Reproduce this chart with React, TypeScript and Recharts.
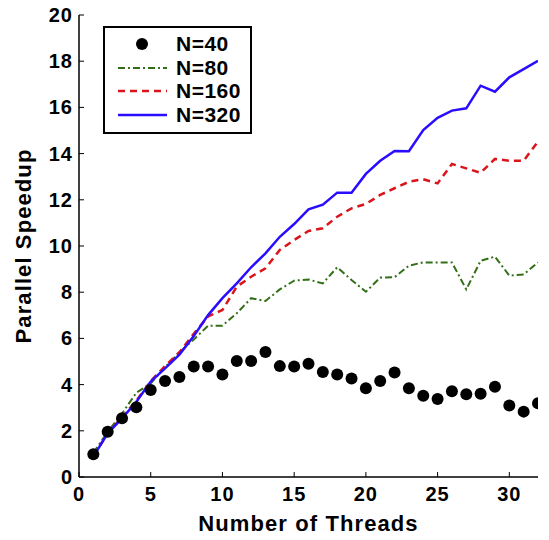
import React from 'react';
import { LineChart, Line, XAxis, YAxis } from 'recharts';

const threads = [1, 2, 3, 4, 5, 6, 7, 8, 9, 10, 11, 12, 13, 14, 15, 16, 17, 18, 19, 20, 21, 22, 23, 24, 25, 26, 27, 28, 29, 30, 31, 32];
const n40 = [0.98, 1.96, 2.54, 3.02, 3.77, 4.16, 4.33, 4.78, 4.78, 4.44, 5.02, 5.02, 5.41, 4.8, 4.78, 4.9, 4.55, 4.44, 4.26, 3.84, 4.16, 4.52, 3.84, 3.52, 3.38, 3.71, 3.58, 3.6, 3.91, 3.1, 2.83, 3.19];
const n80 = [1.05, 1.95, 2.75, 3.65, 4.05, 4.75, 5.4, 5.95, 6.55, 6.55, 7.09, 7.74, 7.62, 8.12, 8.5, 8.55, 8.38, 9.08, 8.53, 8.02, 8.63, 8.65, 9.15, 9.29, 9.29, 9.29, 8.12, 9.36, 9.54, 8.72, 8.77, 9.29];
const n160 = [0.9, 1.9, 2.6, 3.3, 4.15, 4.8, 5.4, 6.2, 6.95, 7.23, 8.24, 8.67, 9.03, 9.83, 10.26, 10.65, 10.77, 11.27, 11.63, 11.82, 12.21, 12.5, 12.78, 12.89, 12.71, 13.55, 13.36, 13.17, 13.77, 13.69, 13.69, 14.52];
const n320 = [0.88, 1.89, 2.54, 3.26, 4.13, 4.7, 5.3, 6.1, 7.01, 7.74, 8.38, 9.08, 9.68, 10.4, 10.95, 11.59, 11.79, 12.31, 12.31, 13.12, 13.69, 14.11, 14.1, 15.02, 15.55, 15.86, 15.96, 16.94, 16.68, 17.3, 17.66, 18.02];
const xTicks = [0, 5, 10, 15, 20, 25, 30];
const yTicks = [0, 2, 4, 6, 8, 10, 12, 14, 16, 18, 20];

const data = threads.map((t, i) => ({ t, n40: n40[i], n80: n80[i], n160: n160[i], n320: n320[i] }));

const FONT = '"Liberation Sans", Arial, sans-serif';
const GREEN = '#336f17';
const RED = '#d9141b';
const BLUE = '#2a0cff';

const XTick = (props: any) => {
  const { x, y, payload } = props;
  return (
    <g>
      <line x1={x} y1={y} x2={x} y2={y - 5} stroke="#000" strokeWidth={1} />
      <text x={x} y={y + 24} textAnchor="middle" fontFamily={FONT} fontWeight="bold" fontSize={20} letterSpacing={1} fill="#000">
        {payload.value}
      </text>
    </g>
  );
};

const YTick = (props: any) => {
  const { x, y, payload } = props;
  return (
    <g>
      <line x1={x} y1={y} x2={x + 5} y2={y} stroke="#000" strokeWidth={1} />
      <text x={x - 6} y={y + 7} textAnchor="end" fontFamily={FONT} fontWeight="bold" fontSize={20} letterSpacing={1} fill="#000">
        {payload.value}
      </text>
    </g>
  );
};

const legendRows = [
  { label: 'N=40', kind: 'dot' },
  { label: 'N=80', kind: 'dashdot' },
  { label: 'N=160', kind: 'dash' },
  { label: 'N=320', kind: 'solid' },
];

const LegendBox = () => (
  <div
    style={{
      position: 'absolute',
      left: 103,
      top: 26,
      width: 145,
      height: 104,
      border: '2px solid #000',
      background: '#fff',
      fontFamily: FONT,
      fontWeight: 'bold',
      fontSize: 21,
    }}
  >
    {legendRows.map((r, i) => (
      <div key={r.label} style={{ position: 'absolute', left: 0, top: 4 + i * 23.7, height: 24, display: 'flex', alignItems: 'center' }}>
        <svg width={70} height={24}>
          {r.kind === 'dot' && <circle cx={37} cy={12} r={6} fill="#000" />}
          {r.kind === 'dashdot' && (
            <line x1={13} y1={12} x2={62} y2={12} stroke={GREEN} strokeWidth={2} strokeDasharray="7 3 2 3" />
          )}
          {r.kind === 'dash' && (
            <line x1={13} y1={12} x2={62} y2={12} stroke={RED} strokeWidth={2.5} strokeDasharray="7 5" />
          )}
          {r.kind === 'solid' && <line x1={13} y1={12} x2={62} y2={12} stroke={BLUE} strokeWidth={2.5} />}
        </svg>
        <span style={{ marginLeft: 1, lineHeight: '24px', letterSpacing: 0.5 }}>{r.label}</span>
      </div>
    ))}
  </div>
);

export default function App() {
  return (
    <div style={{ position: 'absolute', left: 0, top: 0, width: 549, height: 540, background: '#fff' }}>
      <LineChart width={549} height={540} data={data} margin={{ top: 15, right: 11, left: 19, bottom: 0 }}>
        <XAxis
          dataKey="t"
          type="number"
          domain={[0, 32]}
          ticks={xTicks}
          interval={0}
          height={63}
          tickSize={0}
          tickMargin={0}
          tick={<XTick />}
          axisLine={{ stroke: '#000', strokeWidth: 1.5 }}
          tickLine={false}
          allowDataOverflow
          label={{
            value: 'Number of Threads',
            position: 'insideBottom',
            offset: 9,
            style: { fontFamily: FONT, fontWeight: 'bold', fontSize: 22, letterSpacing: 1.1, fill: '#000' },
          }}
        />
        <YAxis
          type="number"
          domain={[0, 20]}
          ticks={yTicks}
          interval={0}
          width={60}
          tickSize={0}
          tickMargin={0}
          tick={<YTick />}
          axisLine={{ stroke: '#000', strokeWidth: 1.5 }}
          tickLine={false}
          allowDataOverflow
          label={{
            value: 'Parallel Speedup',
            angle: -90,
            position: 'insideLeft',
            offset: 4,
            style: { fontFamily: FONT, fontWeight: 'bold', fontSize: 22, letterSpacing: 1.1, fill: '#000', textAnchor: 'middle' },
          }}
        />
        <Line dataKey="n40" stroke="none" isAnimationActive={false} dot={{ r: 6, fill: '#000', stroke: 'none' }} activeDot={false} />
        <Line dataKey="n80" stroke={GREEN} strokeWidth={2} strokeDasharray="7 3 2 3" dot={false} isAnimationActive={false} />
        <Line dataKey="n160" stroke={RED} strokeWidth={2.5} strokeDasharray="7 5" dot={false} isAnimationActive={false} />
        <Line dataKey="n320" stroke={BLUE} strokeWidth={2.5} dot={false} isAnimationActive={false} />
      </LineChart>
      <LegendBox />
    </div>
  );
}
